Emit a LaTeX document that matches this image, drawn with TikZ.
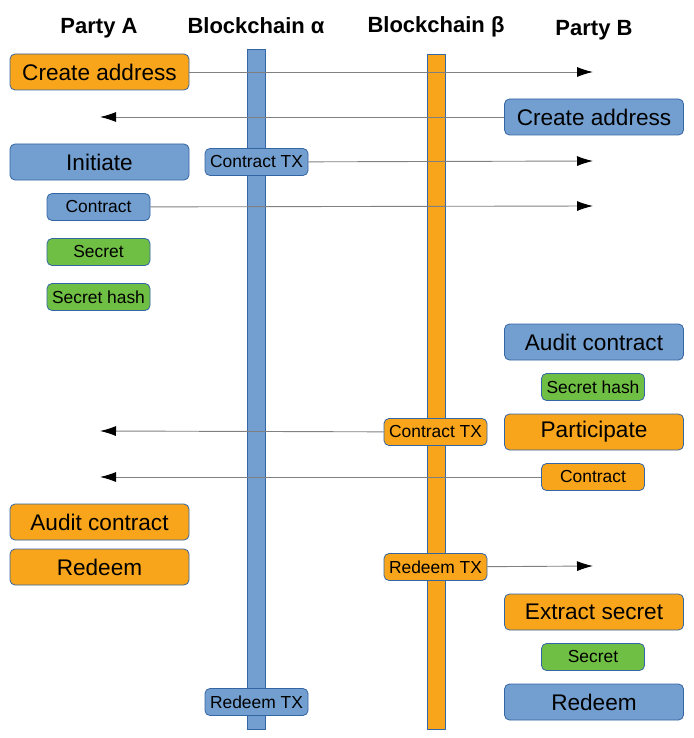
\documentclass[tikz,border=0pt]{standalone}
\usepackage{fontspec}
\setmainfont{Liberation Sans}
\usetikzlibrary{arrows.meta}
\definecolor{chainblue}{HTML}{729FCF}
\definecolor{chainorange}{HTML}{F8A51B}
\definecolor{keygreen}{HTML}{6FBF44}
\definecolor{edgeblue}{HTML}{3465A4}
\definecolor{msggray}{HTML}{808080}

\begin{document}
\begin{tikzpicture}[x=1pt,y=-1pt,
    box/.style={draw=edgeblue,line width=0.8pt,rounded corners=5pt,inner sep=0pt,font=\fontsize{22.6}{25}\selectfont},
    big/.style={box,minimum width=179pt,minimum height=36pt},
    small/.style={box,minimum width=103pt,minimum height=27pt,font=\fontsize{17.4}{20}\selectfont},
    head/.style={anchor=base,font=\fontsize{22}{25}\selectfont\bfseries},
    msg/.style={draw=msggray,line width=0.9pt,-{Latex[length=16pt,width=10pt,color=black]}}]
    \useasboundingbox (0,0) rectangle (693,738);

    % headers
    \node[head] (partyA) at (99,34) {Party A};
    \node[head] (chainA) at (256,34) {Blockchain α};
    \node[head] (chainB) at (436,33) {Blockchain β};
    \node[head] (partyB) at (594,36) {Party B};

    % blockchains
    \draw[edgeblue,line width=0.8pt,fill=chainblue] (247,49) rectangle (265,729);
    \draw[edgeblue,line width=0.8pt,fill=chainorange] (427,54) rectangle (445,729);

    % party A
    \node[big,fill=chainorange] (createA) at (99.5,72) {Create address};
    \node[big,fill=chainblue] (initA) at (99.5,162) {Initiate};
    \node[small,fill=chainblue] (contractA) at (98.5,207) {Contract};
    \node[small,fill=keygreen] (secretA) at (98.5,252) {Secret};
    \node[small,fill=keygreen] (hashA) at (98.5,297) {Secret hash};
    \node[big,fill=chainorange] (auditA) at (99.5,522) {Audit contract};
    \node[big,fill=chainorange] (redeemA) at (99.5,567) {Redeem};

    % party B
    \node[big,fill=chainblue] (createB) at (594,117) {Create address};
    \node[big,fill=chainblue] (auditB) at (594,342) {Audit contract};
    \node[small,fill=keygreen] (hashB) at (593,387) {Secret hash};
    \node[big,fill=chainorange] (partB) at (594,432) {Participate};
    \node[small,fill=chainorange] (contractB) at (593,477) {Contract};
    \node[big,fill=chainorange] (extractB) at (594,612) {Extract secret};
    \node[small,fill=keygreen] (secretB) at (593,657) {Secret};
    \node[big,fill=chainblue] (redeemB) at (594,702) {Redeem};

    % transactions
    \node[small,fill=chainblue] (ctxA) at (256.5,162) {Contract TX};
    \node[small,fill=chainorange] (ctxB) at (435.5,432) {Contract TX};
    \node[small,fill=chainorange] (rtxB) at (435.5,567) {Redeem TX};
    \node[small,fill=chainblue] (rtxA) at (256.5,702) {Redeem TX};

    % message ends
    \coordinate (toB1) at (593,72);
    \coordinate (toA1) at (100,117);
    \coordinate (toB2) at (593,161);
    \coordinate (toB3) at (593,206);
    \coordinate (toA2) at (100,431);
    \coordinate (toA3) at (100,477);
    \coordinate (toB4) at (593,566);

    \path[msg] (createA) edge (toB1)
               (createB) edge (toA1)
               (ctxA) edge (toB2)
               (contractA) edge (toB3)
               (ctxB) edge (toA2)
               (contractB) edge (toA3)
               (rtxB) edge (toB4);
\end{tikzpicture}
\end{document}
